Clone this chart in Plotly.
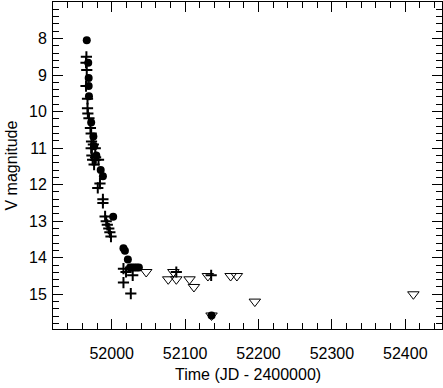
import plotly.graph_objects as go

# Filled circles
circ_jd = [51966, 51968, 51968.6, 51968.6, 51969, 51972, 51975, 51976, 51979, 51985,
           51988, 52002, 52016, 52018, 52022, 52025, 52028, 52031, 52034, 52037, 52136]
circ_mag = [8.05, 8.66, 9.08, 9.3, 9.58, 10.3, 10.68, 10.95, 11.2, 11.6,
            11.77, 12.88, 13.74, 13.81, 14.05, 14.27, 14.27, 14.27, 14.27, 14.27, 15.58]

# Plus signs
plus_jd = [51965.5, 51965, 51966, 51965, 51967, 51967, 51967.5, 51969, 51971, 51972,
           51972.5, 51975, 51972, 51977.6, 51973, 51978, 51974, 51978, 51982, 51976,
           51984, 51981, 51988, 51988, 51991, 51992.5, 51994, 51996, 51997.5, 51999,
           52016, 52019.5, 52028.6, 52016, 52026, 52088, 52135.5]
plus_mag = [8.5, 8.66, 8.86, 9.3, 9.65, 9.91, 10.05, 10.18, 10.45, 10.6,
            10.82, 10.9, 11.0, 11.0, 11.2, 11.25, 11.32, 11.32, 11.32, 11.45,
            11.97, 12.09, 12.4, 12.5, 12.87, 13.0, 13.1, 13.2, 13.3, 13.42,
            14.3, 14.39, 14.48, 14.68, 14.98, 14.39, 14.48]

# Open triangles (upper limits)
tri_jd = [52047, 52077, 52084, 52088, 52106, 52112, 52131, 52162, 52170.5, 52195, 52136, 52411]
tri_mag = [14.39, 14.59, 14.39, 14.59, 14.59, 14.8, 14.5, 14.5, 14.5, 15.2, 15.58, 15.0]

fig = go.Figure()
fig.add_trace(go.Scatter(x=tri_jd, y=tri_mag, mode="markers",
                         marker=dict(symbol="triangle-down-open", size=10,
                                     color="black", line=dict(width=1, color="black"))))
fig.add_trace(go.Scatter(x=plus_jd, y=plus_mag, mode="markers",
                         marker=dict(symbol="cross-thin", size=8,
                                     line=dict(width=2, color="black"), color="black")))
fig.add_trace(go.Scatter(x=circ_jd, y=circ_mag, mode="markers",
                         marker=dict(symbol="circle", size=8, color="black")))

font = dict(family="Liberation Sans, Arial, sans-serif", size=16, color="black")
fig.update_layout(
    width=443, height=388,
    margin=dict(l=53, r=1, t=2, b=59),
    paper_bgcolor="white", plot_bgcolor="white",
    showlegend=False, font=font,
)
fig.update_xaxes(range=[51920, 52450], dtick=100, tick0=52000,
                 showgrid=False, zeroline=False, automargin=False,
                 showline=True, linecolor="black", linewidth=1, mirror="allticks",
                 ticks="inside", ticklen=10, tickcolor="black", tickwidth=1,
                 minor=dict(ticks="inside", dtick=20, tick0=52000, ticklen=6,
                            tickcolor="black", tickwidth=1, showgrid=False),
                 tickformat="d", ticklabelstandoff=10)
fig.update_yaxes(range=[15.95, 7.0], dtick=1, tick0=8,
                 showgrid=False, zeroline=False, automargin=False,
                 showline=True, linecolor="black", linewidth=1, mirror="allticks",
                 ticks="inside", ticklen=10, tickcolor="black", tickwidth=1,
                 minor=dict(ticks="inside", dtick=0.2, tick0=8, ticklen=6,
                            tickcolor="black", tickwidth=1, showgrid=False),
                 ticklabelstandoff=2)

fig.add_annotation(text="Time (JD - 2400000)", xref="paper", yref="paper",
                   x=0.5, y=0, xanchor="center", yanchor="middle", yshift=-45,
                   showarrow=False, font=font)
fig.add_annotation(text="V magnitude", xref="paper", yref="paper",
                   x=0, y=0.5, xanchor="center", yanchor="middle", xshift=-42,
                   textangle=-90, showarrow=False, font=font)

fig.write_html("out.html", config={"displayModeBar": False},
               post_script="document.body.style.margin='0';")
